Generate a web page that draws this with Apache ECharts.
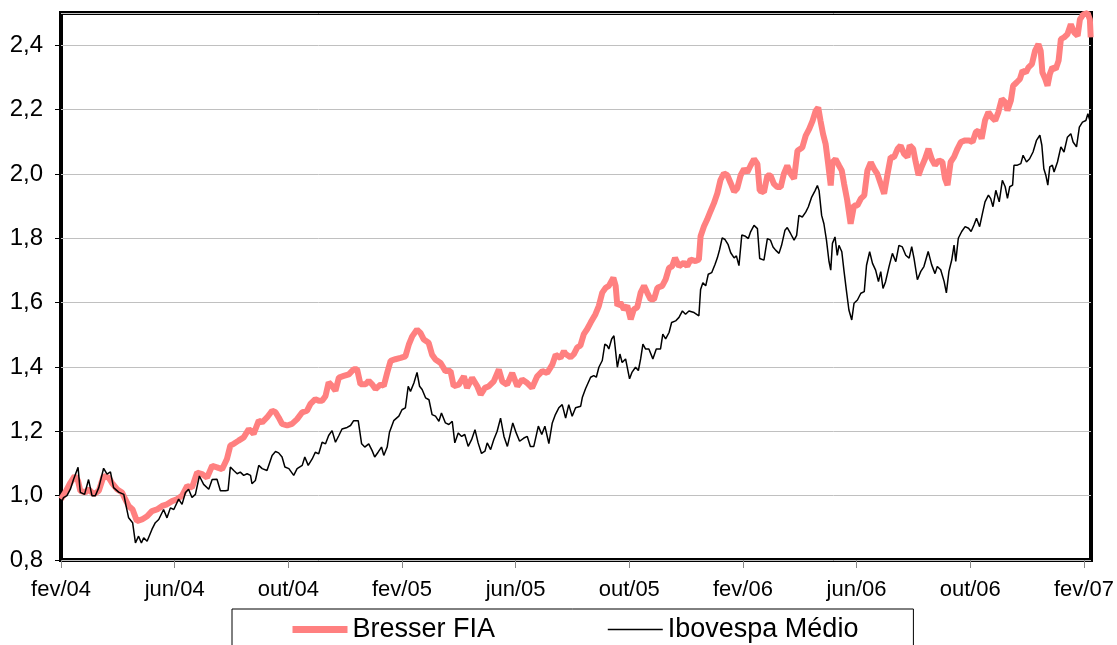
<!DOCTYPE html>
<html lang="pt">
<head>
    <meta charset="UTF-8">
    <title>Bresser FIA x Ibovespa Médio</title>
    <script src="https://cdn.jsdelivr.net/npm/echarts@6/dist/echarts.min.js"></script>
    <style>
        html, body { margin: 0; padding: 0; background: #fff; }
    </style>
</head>
<body>
<div id="main" style="width: 1117px;height:645px;"></div>
<script type="text/javascript">
// eixo x: meses desde fev/04
var tickLabels = ['fev/04', 'jun/04', 'out/04', 'fev/05', 'jun/05', 'out/05', 'fev/06', 'jun/06', 'out/06', 'fev/07'];
var seriesNames = ['Bresser FIA', 'Ibovespa Médio'];

var bresserMonths = [0.00,0.15,0.33,0.48,0.60,0.68,0.86,0.97,1.15,1.33,1.50,1.68,1.79,1.97,2.15,2.26,2.38,2.52,2.67,2.85,3.03,3.20,3.38,3.56,3.73,3.91,4.08,4.26,4.44,4.61,4.79,4.96,5.14,5.32,5.49,5.67,5.84,
    5.96,6.08,6.25,6.43,6.61,6.78,6.96,7.08,7.25,7.43,7.55,7.66,7.78,7.96,8.13,8.31,8.49,8.66,8.78,8.95,9.07,9.19,9.31,9.42,9.54,9.66,9.78,9.95,10.13,10.30,10.42,10.54,10.72,10.83,10.95,11.07,11.25,11.36,11.48,11.60,11.77,
    11.95,12.12,12.24,12.36,12.53,12.65,12.77,12.94,13.06,13.18,13.36,13.53,13.71,13.82,14.00,14.18,14.29,14.47,14.65,14.77,14.92,15.06,15.23,15.41,15.53,15.70,15.88,16.06,16.23,16.41,16.58,16.76,16.94,17.11,17.29,17.41,17.58,17.70,
    17.76,17.93,18.05,18.17,18.28,18.40,18.52,18.64,18.81,18.93,19.05,19.17,19.28,19.44,19.52,19.58,19.69,19.81,19.93,20.05,20.16,20.28,20.40,20.52,20.63,20.75,20.87,20.99,21.16,21.28,21.40,21.51,21.61,21.75,21.92,22.04,22.16,22.33,22.45,22.51,22.63,22.74,22.86,22.98,23.10,23.21,23.33,23.45,23.57,23.69,
    23.80,23.92,24.04,24.15,24.27,24.39,24.51,24.59,24.74,24.86,24.97,25.09,25.21,25.33,25.44,25.56,25.68,25.80,25.92,26.09,26.21,26.33,26.45,26.56,26.65,26.73,26.82,26.91,27.00,27.09,27.15,27.26,27.38,27.48,27.56,27.67,27.79,27.91,28.03,28.15,28.27,28.38,28.50,28.62,28.73,28.85,28.97,29.08,29.20,29.32,29.44,29.55,29.67,29.79,
    29.87,29.99,30.08,30.18,30.29,30.41,30.53,30.64,30.76,30.90,31.02,31.11,31.20,31.31,31.43,31.55,31.67,31.82,31.96,32.08,32.20,32.29,32.40,32.52,32.64,32.76,32.88,32.99,33.11,33.23,33.31,33.43,33.51,33.63,33.75,33.84,33.96,34.05,34.17,34.28,34.40,34.48,34.54,34.64,34.72,34.80,34.89,35.01,35.11,35.19,35.30,35.42,35.54,35.66,35.78,35.86,35.98,36.13,36.21,36.24];
var bresserValues = [0.989,1.010,1.040,1.061,1.046,1.015,1.010,1.020,1.004,1.015,1.061,1.056,1.040,1.020,1.010,0.989,0.968,0.957,0.921,0.926,0.936,0.952,0.957,0.968,0.973,0.983,0.989,1.000,1.030,1.025,1.072,1.067,1.056,1.093,1.088,1.082,1.114,
    1.156,1.161,1.171,1.181,1.207,1.192,1.233,1.228,1.243,1.264,1.259,1.243,1.223,1.218,1.223,1.238,1.259,1.264,1.285,1.300,1.295,1.295,1.310,1.352,1.341,1.326,1.367,1.372,1.377,1.393,1.393,1.346,1.346,1.357,1.346,1.331,1.346,1.341,1.382,1.419,1.424,
    1.428,1.433,1.469,1.495,1.516,1.506,1.485,1.475,1.438,1.423,1.412,1.387,1.387,1.340,1.345,1.371,1.335,1.366,1.340,1.314,1.335,1.340,1.355,1.392,1.355,1.345,1.381,1.340,1.361,1.350,1.335,1.371,1.387,1.381,1.407,1.438,1.428,1.449,
    1.440,1.430,1.440,1.461,1.466,1.502,1.518,1.538,1.564,1.590,1.631,1.646,1.652,1.677,1.652,1.590,1.600,1.579,1.590,1.548,1.579,1.585,1.631,1.652,1.631,1.610,1.610,1.646,1.652,1.672,1.708,1.713,1.739,1.713,1.724,1.713,1.734,1.729,1.734,1.806,1.837,1.858,1.884,1.909,1.940,1.981,2.002,1.996,1.971,1.945,
    1.955,1.996,2.015,2.005,2.026,2.046,2.031,1.948,1.943,1.995,1.995,1.969,1.959,1.959,2.000,2.026,2.000,1.985,2.072,2.082,2.119,2.139,2.165,2.196,2.206,2.165,2.124,2.093,2.031,1.964,2.036,2.046,2.026,2.010,1.969,1.918,1.845,1.902,1.902,1.923,1.933,2.010,2.036,2.015,2.000,1.969,1.938,1.995,2.052,2.052,2.077,2.088,2.062,2.052,
    2.089,2.078,2.037,1.996,2.022,2.047,2.078,2.047,2.027,2.042,2.037,1.986,1.965,2.037,2.053,2.078,2.099,2.104,2.104,2.099,2.130,2.135,2.109,2.166,2.192,2.176,2.166,2.192,2.233,2.223,2.197,2.228,2.274,2.284,2.295,2.321,2.315,2.331,2.341,2.382,2.403,2.382,2.315,2.295,2.274,2.310,2.331,2.326,2.352,2.419,2.424,2.434,2.465,2.439,2.429,2.480,2.496,2.500,2.480,2.424];

var ibovMonths = [0.00,0.09,0.21,0.33,0.44,0.60,0.68,0.83,0.97,1.09,1.21,1.33,1.50,1.62,1.74,1.85,2.03,2.21,2.29,2.38,2.52,2.62,2.73,2.83,2.91,3.03,3.20,3.32,3.44,3.61,3.73,3.85,3.97,4.14,4.26,4.38,4.49,4.61,4.73,4.87,5.02,5.20,5.32,5.49,5.61,5.79,
    5.88,5.96,6.08,6.20,6.31,6.43,6.55,6.67,6.72,6.84,6.96,7.08,7.25,7.43,7.55,7.66,7.78,7.88,8.02,8.19,8.31,8.49,8.58,8.70,8.84,8.95,9.07,9.19,9.31,9.42,9.54,9.66,9.78,9.89,10.07,10.19,10.30,10.46,10.58,10.69,10.83,10.95,11.04,11.16,11.28,11.36,11.48,11.56,11.71,
    11.89,12.00,12.12,12.22,12.30,12.36,12.42,12.53,12.62,12.71,12.83,12.95,13.06,13.18,13.30,13.39,13.53,13.65,13.77,13.86,13.98,14.10,14.21,14.33,14.45,14.57,14.68,14.80,14.92,15.00,15.12,15.23,15.35,15.47,15.59,15.71,15.82,15.90,16.02,16.14,16.29,16.41,16.52,16.64,16.80,16.92,17.03,17.17,17.29,17.40,17.52,17.64,17.76,17.87,17.99,18.11,18.29,
    18.35,18.46,18.64,18.75,18.84,18.93,19.05,19.14,19.22,19.28,19.38,19.46,19.58,19.67,19.75,19.87,20.01,20.10,20.22,20.32,20.40,20.48,20.57,20.69,20.83,20.95,21.10,21.18,21.28,21.40,21.49,21.63,21.75,21.87,21.98,22.10,22.28,22.45,22.51,22.59,22.69,22.78,22.90,23.02,23.10,23.18,23.27,23.37,23.48,23.57,23.69,23.77,23.86,23.96,24.09,
    24.12,24.19,24.27,24.39,24.51,24.59,24.74,24.86,24.97,25.06,25.15,25.27,25.36,25.48,25.56,25.68,25.80,25.89,25.97,26.09,26.21,26.30,26.42,26.54,26.62,26.68,26.77,26.85,26.94,27.03,27.09,27.15,27.24,27.32,27.38,27.48,27.56,27.64,27.73,27.83,27.91,28.03,28.15,28.27,28.35,28.46,28.56,28.67,28.77,28.85,28.93,29.02,29.14,29.26,29.38,29.49,29.61,29.73,
    29.85,29.94,30.02,30.14,30.26,30.37,30.52,30.64,30.76,30.84,30.96,31.08,31.16,31.25,31.35,31.43,31.49,31.58,31.70,31.82,31.94,32.03,32.13,32.22,32.33,32.43,32.52,32.64,32.72,32.80,32.90,33.02,33.13,33.23,33.31,33.39,33.49,33.54,33.66,33.78,33.86,33.98,34.09,34.21,34.33,34.45,34.52,34.59,34.66,34.73,34.80,34.89,34.95,35.07,35.19,35.30,35.42,35.54,35.62,35.74,35.84,35.95,36.07,36.14,36.21,36.24];
var ibovValues = [0.978,0.994,1.000,1.020,1.050,1.088,1.010,1.004,1.050,1.000,1.000,1.025,1.085,1.067,1.074,1.025,1.011,1.004,0.968,0.931,0.916,0.853,0.874,0.853,0.869,0.858,0.895,0.916,0.926,0.957,0.931,0.962,0.957,0.989,0.973,1.010,1.020,0.994,1.004,1.061,1.035,1.020,1.050,1.051,1.015,1.015,
    1.017,1.089,1.078,1.068,1.073,1.063,1.068,1.063,1.037,1.047,1.094,1.084,1.078,1.125,1.137,1.133,1.120,1.089,1.084,1.063,1.084,1.094,1.120,1.094,1.114,1.135,1.130,1.166,1.161,1.187,1.202,1.166,1.187,1.207,1.212,1.218,1.233,1.233,1.161,1.151,1.161,1.140,1.120,1.135,1.151,1.125,1.151,1.197,1.233,
    1.247,1.267,1.273,1.340,1.324,1.330,1.350,1.383,1.340,1.330,1.304,1.298,1.252,1.247,1.231,1.257,1.226,1.221,1.231,1.164,1.195,1.184,1.190,1.153,1.174,1.205,1.164,1.131,1.138,1.164,1.143,1.174,1.200,1.241,1.184,1.153,1.195,1.226,1.195,1.169,1.179,1.184,1.153,1.153,1.216,1.190,1.216,1.162,1.226,1.252,1.273,1.283,1.241,1.283,1.247,1.273,1.278,
    1.306,1.332,1.368,1.373,1.368,1.399,1.420,1.471,1.466,1.456,1.487,1.497,1.399,1.440,1.414,1.425,1.363,1.384,1.399,1.389,1.425,1.471,1.456,1.456,1.425,1.456,1.456,1.502,1.487,1.507,1.538,1.543,1.554,1.574,1.564,1.574,1.569,1.559,1.641,1.662,1.652,1.688,1.693,1.719,1.739,1.765,1.801,1.796,1.780,1.755,1.739,1.745,1.715,1.810,1.806,
    1.812,1.799,1.820,1.840,1.830,1.737,1.732,1.799,1.794,1.773,1.763,1.753,1.778,1.825,1.833,1.814,1.794,1.809,1.871,1.866,1.881,1.897,1.928,1.948,1.964,1.948,1.871,1.845,1.794,1.727,1.701,1.784,1.804,1.747,1.778,1.758,1.696,1.639,1.577,1.546,1.598,1.608,1.629,1.634,1.716,1.758,1.722,1.701,1.665,1.696,1.644,1.665,1.711,1.753,1.727,1.778,1.773,1.747,
    1.738,1.774,1.738,1.671,1.697,1.712,1.759,1.718,1.690,1.712,1.702,1.666,1.630,1.697,1.733,1.779,1.728,1.800,1.821,1.836,1.831,1.821,1.841,1.862,1.836,1.877,1.913,1.934,1.923,1.898,1.949,1.913,1.980,1.960,1.924,1.960,1.965,2.027,2.027,2.032,2.058,2.037,2.047,2.068,2.104,2.120,2.089,2.016,1.996,1.965,2.022,2.027,2.006,2.037,2.084,2.068,2.114,2.125,2.099,2.084,2.145,2.161,2.166,2.187,2.166,2.151];

function pairs(xs, ys) {
    var out = [];
    for (var i = 0; i < xs.length; i++) {
        out.push([xs[i], ys[i]]);
    }
    return out;
}

var fontFamily = "'Liberation Sans', Arial, sans-serif";
var myChart = echarts.init(document.getElementById('main'));
var option = {
    animation: false,
    backgroundColor: '#fff',
    grid: {
        left: 61,
        right: 26,
        top: 13,
        bottom: 85,
        show: true,
        borderColor: '#000',
        borderWidth: 4
    },
    legend: {
        data: [
            { name: seriesNames[0], lineStyle: { width: 7, color: '#ff8080' } },
            { name: seriesNames[1], lineStyle: { width: 1.5, color: '#000' } }
        ],
        left: 232,
        top: 609,
        orient: 'horizontal',
        borderColor: '#000',
        borderWidth: 1,
        padding: [7, 55, 14, 57],
        itemGap: 112,
        itemWidth: 55,
        itemHeight: 10,
        itemStyle: { opacity: 0 },
        textStyle: { fontFamily: fontFamily, fontSize: 27, color: '#000' }
    },
    xAxis: {
        type: 'value',
        min: 0,
        max: 36.25,
        interval: 4,
        axisLine: { show: false },
        axisTick: { show: true, length: 8, lineStyle: { color: '#888', width: 1 } },
        splitLine: { show: false },
        axisLabel: {
            margin: 19,
            fontFamily: fontFamily,
            fontSize: 22,
            color: '#000',
            showMaxLabel: false,
            formatter: function (v) {
                var k = v / 4;
                return Number.isInteger(k) ? tickLabels[k] : '';
            }
        }
    },
    yAxis: {
        type: 'value',
        min: 0.8,
        max: 2.5,
        interval: 0.2,
        axisLine: { show: false },
        axisTick: { show: true, length: 6, lineStyle: { color: '#000', width: 1 } },
        splitLine: { show: true, lineStyle: { color: '#c0c0c0', width: 1 } },
        axisLabel: {
            margin: 18,
            fontFamily: fontFamily,
            fontSize: 24,
            color: '#000',
            showMaxLabel: false,
            formatter: function (v) {
                return v.toFixed(1).replace('.', ',');
            }
        }
    },
    series: [
        {
            name: seriesNames[0],
            type: 'line',
            data: pairs(bresserMonths, bresserValues),
            showSymbol: false,
            symbol: 'none',
            color: '#ff8080',
            lineStyle: { color: '#ff8080', width: 6 }
        },
        {
            name: seriesNames[1],
            type: 'line',
            data: pairs(ibovMonths, ibovValues),
            showSymbol: false,
            symbol: 'none',
            color: '#000',
            lineStyle: { color: '#000', width: 1.5 }
        }
    ]
};
myChart.setOption(option);
</script>
</body>
</html>
